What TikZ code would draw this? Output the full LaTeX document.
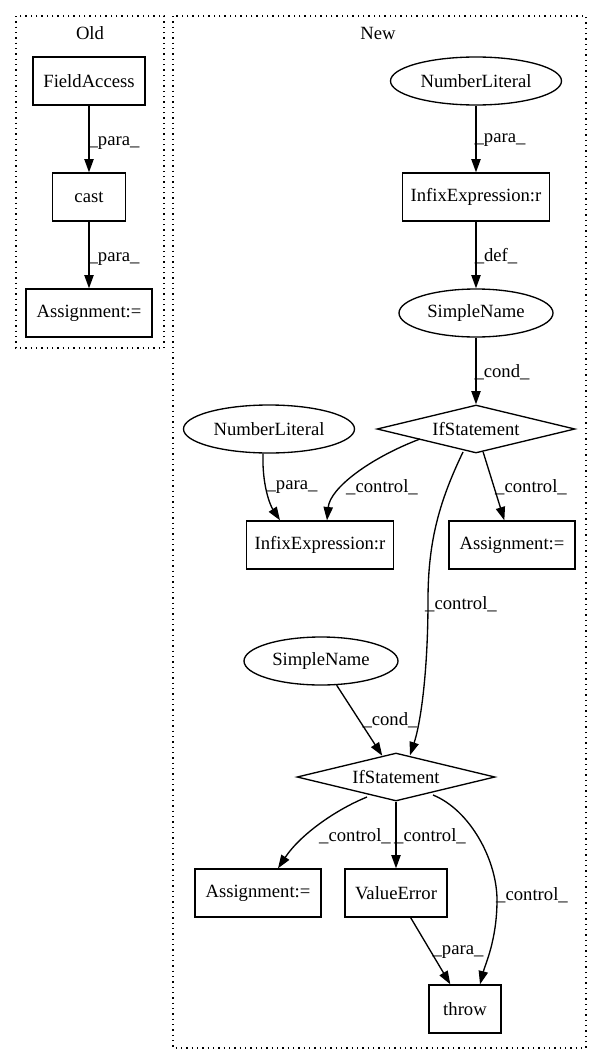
\documentclass[tikz,border=0pt]{standalone}
\usepackage{fontspec}
\setmainfont{Liberation Serif}
\usetikzlibrary{shapes.geometric,arrows.meta,calc}
\begin{document}
\begin{tikzpicture}[x=0.75pt,y=-0.75pt,
  every node/.style={font=\fontsize{14pt}{16pt}\selectfont},
  box/.style={draw,rectangle,line width=1pt,minimum height=36pt,inner sep=0pt},
  ell/.style={draw,ellipse,line width=1pt,minimum height=36pt,inner sep=0pt},
  dia/.style={draw,diamond,line width=1pt,minimum width=148.5pt,minimum height=36pt,inner sep=0pt,aspect=4},
  arr/.style={-{Triangle[length=10pt,width=7pt]},line width=1pt},
  lbl/.style={inner sep=0pt},
  clus/.style={draw,line width=1pt,dash pattern=on 1pt off 3pt}]
\useasboundingbox (0,0) rectangle (601,1060);

% clusters
\draw[clus] (16,16) rectangle (164,348);
\draw[clus] (173,16) rectangle (586,1048);
\node[lbl] (oldlbl) at (90,33) {Old};
\node[lbl] (newlbl) at (378,33) {New};

% Old
\node[box,minimum width=84pt] (fa) at (89,81) {FieldAccess};
\node[box,minimum width=54.75pt] (cast) at (89,197) {cast};
\node[box,minimum width=94.5pt] (asg0) at (89,313) {Assignment:=};

% New
\node[ell,minimum width=128.25pt] (nl1) at (476,81) {NumberLiteral};
\node[box,minimum width=110.25pt] (inf1) at (476,197) {InfixExpression:r};
\node[ell,minimum width=115.5pt] (sn1) at (476,313) {SimpleName};
\node[dia] (if1) at (476,429) {IfStatement};
\node[ell,minimum width=128.25pt] (nl2) at (269,429) {NumberLiteral};
\node[box,minimum width=110.25pt] (inf2) at (320,545) {InfixExpression:r};
\node[box,minimum width=94.5pt] (asgR) at (512,545) {Assignment:=};
\node[ell,minimum width=115.5pt] (sn2) at (321,661) {SimpleName};
\node[dia] (if2) at (396,777) {IfStatement};
\node[box,minimum width=94.5pt] (asgB) at (258,893) {Assignment:=};
\node[box,minimum width=76.5pt] (ve) at (396,893) {ValueError};
\node[box,minimum width=54pt] (thr) at (465,1009) {throw};

% edges Old
\draw[arr] (fa) -- (cast);
\draw[arr] (cast) -- (asg0);
\node[lbl] (l1) at (114,143) {\_para\_};
\node[lbl] (l2) at (114,259) {\_para\_};

% edges New
\draw[arr] (nl1) -- (inf1);
\draw[arr] (inf1) -- (sn1);
\draw[arr] (sn1) -- (if1);
\node[lbl] (l3) at (500,140) {\_para\_};
\node[lbl] (l4) at (496,256) {\_def\_};
\node[lbl] (l5) at (502,372) {\_cond\_};

\draw[arr] ($(nl2.south)+(-6,0)$) .. controls (262,485) and (270,505) .. ($(inf2.north)+(-40,0)$);
\node[lbl] (l6) at (292,487) {\_para\_};

\draw[arr] ($(if1.center)+(-56,10)$) .. controls (370,458) and (330,488) .. ($(inf2.north)+(7,0)$);
\node[lbl] (l7) at (382,487) {\_control\_};

\draw[arr] (if1) -- (asgR);
\node[lbl] (l8) at (531,487) {\_control\_};

\draw[arr] ($(if1.center)+(-13,23)$) .. controls (440,500) and (428,540) .. (428,600)
  .. controls (428,670) and (421,722) .. ($(if2.north)+(14,3)$);
\node[lbl] (l9) at (461,604) {\_control\_};

\draw[arr] (sn2) -- (if2);
\node[lbl] (l10) at (390,720) {\_cond\_};

\draw[arr] ($(if2.center)+(-29,20)$) .. controls (335,810) and (300,835) .. ($(asgB.north)+(20,0)$);
\node[lbl] (l11) at (355,836) {\_control\_};

\draw[arr] (if2) -- (ve);
\node[lbl] (l12) at (430,836) {\_control\_};

\draw[arr] ($(if2.center)+(37,18)$) .. controls (470,810) and (497,860) .. (497,900)
  .. controls (497,940) and (485,965) .. ($(thr.north)+(15,0)$);
\node[lbl] (l13) at (532,895) {\_control\_};

\draw[arr] (ve) -- (thr);
\node[lbl] (l14) at (458,952) {\_para\_};
\end{tikzpicture}
\end{document}
